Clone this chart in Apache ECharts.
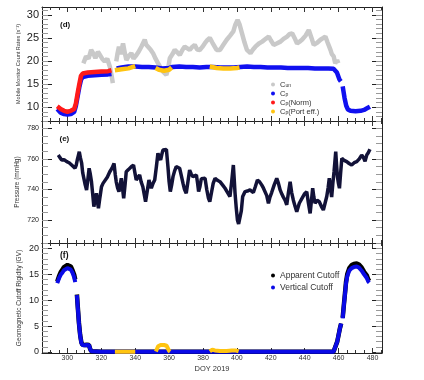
<!DOCTYPE html>
<html>
<head>
<meta charset="utf-8">
<script src="https://cdn.jsdelivr.net/npm/echarts@6/dist/echarts.min.js"></script>
<style>
html, body { margin: 0; padding: 0; background: #fff; }
#main { width: 424px; height: 380px; }
</style>
</head>
<body>
<div id="main"></div>
<script>
// [DOY, value] pairs; null = gap
const cUn = [[309.4,19.5],[311,21],[312.5,20.5],[314,22.4],[315.5,21.5],[316.5,20.6],[318,22],[319,21.7],[320.5,20.5],[322,19.9],[323.5,20.5],[325,18.8],[326,17],[326.8,15.2],[327.8,null],
  [328.8,19.9],[329.5,21.5],[330.4,23.1],[331.5,21.5],[332.8,23.8],[334,21.5],[334.8,20.2],[336,21],[337.7,21.7],[339,20.5],[340.7,21.3],[342,22],[343.6,23.1],[345.6,24.6],[346.5,23.5],[347.6,23.1],[349,22.5],[350.5,21.7],[352,20.5],[353.5,19.5],[355,18.5],[356.4,17.7],[358.4,17],[359.5,18.5],[360.4,20.6],[362,21.5],[363.3,22.4],[365,21.8],[366.3,21.3],[368,22.5],[369.2,23.1],[370.5,22.8],[372.2,22.4],[373.5,23],[375.1,23.5],[376.5,22.5],[378.1,22.4],[379.5,23],[381,23.8],[382.5,24.5],[384,25],[385.5,24],[388,22.4],[390,22.4],[392,23.5],[394,24.6],[396,25.5],[397.9,26.4],[399,27.8],[400.4,28.9],[401.5,28],[403,26],[404.5,24],[405.9,22.4],[408,21.7],[409.5,22.5],[410.9,23.1],[413,23.8],[414.9,24.2],[417,24.8],[418.8,25.3],[420,24.5],[421.7,23.5],[423.5,23.8],[425.7,24.2],[427.5,24.8],[429.6,25.3],[431,25.8],[432.6,26],[434,25],[435.5,23.8],[437,24.2],[438.4,24.6],[440.5,25.5],[442.4,26.7],[444,25],[445.3,23.5],[447.5,24],[449.3,24.6],[451,25],[452.2,25.3],[453.5,24],[455.2,22.4],[456,21.5],[457.1,21],[458,19.5],[459.1,20.2],[459.8,19.5]];
const cP = [[294,9.6],[296,8.8],[298,8.5],[300,8.4],[302,8.5],[304,9],[305,10.3],[306,12.3],[307,14.3],[308,15.9],[309,16.5],[312,16.8],[316,16.9],[320,17],[324,17.1],[326,17.2],[327.5,null],
  [329,18.4],[332,18.6],[336,18.8],[340,18.8],[344,18.7],[348,18.7],[352,18.6],[356,18.4],[360,18.5],[362,18.7],[366,18.8],[370,18.7],[374,18.7],[378,18.6],[382,18.7],[386,18.7],[390,18.6],[394,18.6],[398,18.6],[402,18.7],[406,18.8],[410,18.7],[414,18.7],[418,18.6],[422,18.6],[426,18.6],[430,18.5],[434,18.5],[438,18.5],[442,18.5],[446,18.4],[450,18.4],[454,18.4],[457,18.3],[459,17.5],[460.5,16],[461.3,15.6],[461.8,null],
  [462.4,14.5],[463.5,12],[464.5,10.3],[465.5,9.5],[467,9.2],[470,9.1],[473,9.2],[475,9.4],[477,9.8],[478.5,10.1]];
const cPNorm = [[294,10.2],[296,9.6],[298,9.2],[300,9],[302,9.2],[304,9.6],[305,10.8],[306,13],[307,15],[308,16.8],[309,17.3],[312,17.5],[316,17.6],[320,17.7],[324,17.8],[326,18]];
const cPPort = [[328,18],[332,18.2],[336,18.4],[340,18.9],[341,null],
  [352,18.5],[354,18.1],[357,17.9],[360,18.1],[361.5,18.6],[362.5,null],
  [384,18.8],[388,18.5],[392,18.4],[396,18.4],[400,18.5],[401.5,18.6]];
const pressure = [[294.6,762.5],[295.5,761],[296.6,759.3],[298,759.5],[299.6,758.2],[301,757.5],[302.5,756],[303.5,755.5],[304.5,753.9],[305.2,756],[305.8,759.3],[306.4,762],[307,764.7],[307.6,761],[308.4,757.2],[309,751],[309.7,747.3],[310.5,743],[311.3,739.7],[312,746],[312.8,753.9],[313.5,750],[314.2,745],[315,736],[315.6,728.8],[316.3,733],[317.1,737.5],[317.7,732],[318.3,727.7],[319.2,735],[320.1,741.8],[321,744],[322,745],[323.5,748],[325,751.6],[326.3,754],[327.5,757.1],[328.2,750],[328.8,745],[329.6,741],[330.4,738.6],[331.1,743],[331.8,747.3],[332.5,741],[333.2,734.3],[334,743],[334.7,751.6],[336,753],[337.7,754.9],[339,756],[339.8,751],[340.6,746.2],[341.6,748],[342.6,749.5],[343.5,745],[344.5,741.8],[345.3,737],[346.1,732],[347.1,739],[348.1,746.2],[348.8,743],[349.5,740.8],[350.5,744],[351.5,746.2],[352.5,755],[353.4,763.7],[354.2,761],[355,759.3],[355.7,763],[356.4,765.8],[357.4,766.5],[358.4,766.2],[359.3,754.9],[360,745],[360.7,738.6],[361.5,743],[362.3,748.4],[363.2,752],[364.2,754.9],[365.2,754.5],[366.2,753.9],[367.2,749],[368.2,744],[369.1,740],[370.1,737.5],[371.1,745],[372.1,752.7],[373.1,750],[374.1,748.4],[375.1,749],[376.1,749.5],[376.8,744],[377.4,738.6],[378.2,742],[379,747],[380.1,747.5],[381.2,747.3],[382.2,740],[383.2,734.3],[384,732],[385,738],[386,744],[387.1,747.3],[388.5,746],[390,745.1],[391.5,743],[393,740.8],[394.5,738],[395.9,735.4],[396.9,745],[397.9,756],[398.4,747],[398.9,737.5],[399.6,728],[400.3,720.1],[401,717.5],[401.8,716.8],[402.6,726],[403.4,735.4],[404.8,738.6],[406.2,739],[407.7,739.7],[408.7,741],[409.7,738],[410.9,742],[412.1,746.2],[413.4,745],[414.6,743],[415.6,741],[416.6,740],[417.6,736],[418.6,731],[419.5,735],[420.5,738],[422,743],[423.5,747.3],[424.5,744],[425.5,739.7],[426.5,737],[427.4,735],[428.4,733],[429.4,730],[430.4,738],[431.4,745.1],[432.3,738],[433.3,733],[434.3,729],[435.3,725.5],[436.8,731],[438.3,734],[439.8,737],[441.2,738.6],[442.2,731],[443.2,724.4],[444,733],[444.7,740.8],[445.4,735],[446.1,731],[447.3,733],[448.6,732],[449.8,729],[451,726.6],[452,731],[453,735.4],[453.8,741],[454.5,747.3],[455.2,741],[455.9,735],[456.6,744],[457.3,751.6],[457.8,758],[458.3,764.7],[458.8,756],[459.3,748.4],[459.9,744],[460.5,740.8],[461.2,751],[461.9,760.4],[463.3,759],[464.8,758.2],[466.2,757],[467.7,756],[469.2,757.5],[470.7,758.2],[472.2,760],[473.6,762.5],[474.6,761],[475.6,758.5],[476.6,762.5],[477.5,764],[478.5,766.3]];
const apparentCutoff = [[294,13.6],[295,14.6],[296,15.4],[297,15.9],[298,16.4],[299,16.7],[300,16.8],[301,16.8],[302,16.5],[303,15.8],[304,14.9],[304.6,14],[305.1,null],
  [305.6,11.1],[306.2,8.3],[306.8,5.6],[307.5,3.3],[308.2,1.9],[308.8,1.4],[310,1.35],[311.5,1.4],[312.7,1.35],[313.4,0.6],[314,0.15],[320,0.05],[380,0.05],[457,0.05],[458,0.4],[459.2,2],[460.8,4.6],[461.5,5.5],[461.9,null],
  [462.4,6.6],[463.1,9.1],[463.8,11.5],[464.4,13.6],[465.1,15],[466.3,16.2],[467.7,16.8],[469,17],[470.7,17.1],[472,16.9],[473.6,16.3],[475,15.5],[476.6,14.8],[477.5,14],[478.1,13.7]];
const verticalCutoff = [[294,13.3],[295,14.2],[296,14.9],[297,15.3],[298,15.8],[299,16.1],[300,16.2],[301,16.2],[302,15.9],[303,15.3],[304,14.4],[304.6,13.5],[305.1,null],
  [305.6,11],[306.2,8.2],[306.8,5.5],[307.5,3.2],[308.2,1.8],[308.8,1.35],[310,1.3],[311.5,1.35],[312.7,1.3],[313.4,0.6],[314,0.15],[320,0.05],[380,0.05],[457,0.05],[458,0.4],[459.2,2],[460.8,4.6],[461.5,5.5],[461.9,null],
  [462.4,6.5],[463.1,9],[463.8,11.3],[464.4,13.3],[465.1,14.6],[466.3,15.7],[467.7,16.2],[469,16.4],[470.7,16.5],[472,16.3],[473.6,15.7],[475,15],[476.6,14.3],[477.5,13.6],[478.1,13.4]];
const portCutoff = [[328,0.05],[340,0.05],[341,null],
  [352.2,0.1],[353.5,1.1],[355,1.35],[357,1.35],[358.5,1.2],[360,0.2],[360.6,0.05],[361,null],
  [384,0.1],[385.5,0.45],[387,0.3],[390,0.2],[394,0.2],[397,0.3],[398,0.5],[399,0.3],[401,0.1]];

const xTickLabels = [300, 320, 340, 360, 380, 400, 420, 440, 460, 480];
const rateTicks = [10, 15, 20, 25, 30];
const pressureTicks = [720, 740, 760, 780];
const cutoffTicks = [0, 5, 10, 15, 20];

const FONT = 'Liberation Sans, Arial, sans-serif';
const X_MIN = 285, X_MAX = 485.6;
const steps = (a, b, s) => { const t = []; for (let v = a; v <= b + 1e-9; v += s) t.push(+v.toFixed(3)); return t; };
const clean = d => d.map(p => [p[0], p[1] == null ? '-' : p[1]]);

const panels = [
  { top: 7, height: 114, min: 7, max: 31.7, major: rateTicks, minor: steps(7, 31, 1), labelSize: 11,
    name: 'Mobile Monitor Count Rates (s\u207B\u00B9)', nameSize: 5.5, nameGap: 21 },
  { top: 121, height: 122, min: 705, max: 784.8, major: pressureTicks, minor: steps(705, 780, 5), labelSize: 7,
    name: 'Pressure (mmHg)', nameSize: 6.5, nameGap: 21 },
  { top: 243, height: 110, min: -0.2, max: 21.05, major: cutoffTicks, minor: steps(0, 21, 1), labelSize: 9,
    name: 'Geomagnetic Cutoff Rigidity (GV)', nameSize: 6.5, nameGap: 19 }
];

const grids = [], xAxes = [], yAxes = [];
function xAx(gi, pos, ticks, len, showLine, last) {
  return {
    type: 'value', gridIndex: gi, position: pos, min: X_MIN, max: X_MAX,
    axisLine: { show: showLine, onZero: false, lineStyle: { color: '#222', width: 1 } },
    axisTick: { show: true, inside: true, length: len, customValues: ticks, lineStyle: { color: '#333', width: 1 } },
    axisLabel: { show: !!last, customValues: xTickLabels, fontSize: 7, color: '#333', margin: 2, fontFamily: FONT },
    splitLine: { show: false },
    name: last ? 'DOY 2019' : '', nameLocation: 'middle', nameGap: 11.5, nameMoveOverlap: false,
    nameTextStyle: { fontSize: 7.5, color: '#333', fontFamily: FONT }
  };
}
function yAx(gi, pos, p, ticks, len, color, showLine, withLabels) {
  return {
    type: 'value', gridIndex: gi, position: pos, min: p.min, max: p.max,
    axisLine: { show: showLine, onZero: false, lineStyle: { color: '#222', width: 1 } },
    axisTick: { show: true, inside: true, length: len, customValues: ticks, lineStyle: { color: color, width: 1 } },
    axisLabel: { show: !!withLabels, customValues: p.major, fontSize: p.labelSize, color: '#222', margin: 3, fontFamily: FONT },
    splitLine: { show: false },
    name: withLabels ? p.name : '', nameLocation: 'middle', nameRotate: 90, nameGap: p.nameGap, nameMoveOverlap: false,
    nameTextStyle: { fontSize: p.nameSize, color: '#333', fontFamily: FONT }
  };
}
// major-tick grids 0..2
panels.forEach((p, i) => {
  grids.push({ left: 42, width: 340, top: p.top, height: p.height, outerBoundsMode: 'none' });
  xAxes.push(xAx(i, 'bottom', xTickLabels, 5, true, i === 2), xAx(i, 'top', xTickLabels, 5, true, false));
  yAxes.push(yAx(i, 'left', p, p.major, 10, '#222', true, true), yAx(i, 'right', p, p.major, 10, '#222', true, false));
});
// overlaid minor-tick grids 3..5
panels.forEach((p, i) => {
  grids.push({ left: 42, width: 340, top: p.top, height: p.height, outerBoundsMode: 'none' });
  xAxes.push(xAx(3 + i, 'bottom', steps(285, 485, 5), 3, false, false), xAx(3 + i, 'top', steps(285, 485, 5), 3, false, false));
  yAxes.push(yAx(3 + i, 'left', p, p.minor, 6, '#999', false, false), yAx(3 + i, 'right', p, p.minor, 6, '#999', false, false));
});

function line(name, gi, data, color, width) {
  return {
    type: 'line', name: name, xAxisIndex: 2 * gi, yAxisIndex: 2 * gi, data: clean(data),
    showSymbol: false, symbol: 'circle', symbolSize: 4, connectNulls: false, silent: true,
    color: color, itemStyle: { color: color }, lineStyle: { color: color, width: width }
  };
}

const BLUE = '#1010f0', RED = '#ff1a1a', YELLOW = '#ffc410', GREY = '#c9c9c9', NAVY = '#121238';

const labelMap = {
  'C_un': '{a|C}{b|un}', 'C_p': '{a|C}{b|p}',
  'C_p(Norm)': '{a|C}{b|p}{a|(Norm)}', 'C_p(Port eff.)': '{a|C}{b|p}{a|(Port eff.)}'
};

const option = {
  animation: false,
  backgroundColor: '#fff',
  grid: grids, xAxis: xAxes, yAxis: yAxes,
  legend: [
    { data: ['C_un', 'C_p', 'C_p(Norm)', 'C_p(Port eff.)'], orient: 'vertical', left: 266, top: 75.5,
      icon: 'circle', itemWidth: 4, itemHeight: 4, itemGap: 1, selectedMode: false,
      formatter: n => labelMap[n],
      textStyle: { color: '#333', fontFamily: FONT,
        rich: { a: { fontSize: 7.5, lineHeight: 8, fontFamily: FONT, color: '#333' },
                b: { fontSize: 5, lineHeight: 8, verticalAlign: 'bottom', fontFamily: FONT, color: '#333' } } } },
    { data: ['Apparent Cutoff', 'Vertical Cutoff'], orient: 'vertical', left: 266, top: 265.5,
      icon: 'circle', itemWidth: 4, itemHeight: 4, itemGap: 2, selectedMode: false,
      textStyle: { color: '#333', fontFamily: FONT, fontSize: 8.5, lineHeight: 10 } }
  ],
  graphic: [
    { type: 'text', left: 60, top: 21, style: { text: '(d)', font: 'bold 8px ' + FONT, fill: '#111' } },
    { type: 'text', left: 59.5, top: 134.5, style: { text: '(e)', font: 'bold 8px ' + FONT, fill: '#111' } },
    { type: 'text', left: 60, top: 251, style: { text: '(f)', font: 'bold 8.5px ' + FONT, fill: '#111' } }
  ],
  series: [
    line('C_un', 0, cUn, GREY, 4.5),
    line('C_p', 0, cP, BLUE, 4.5),
    line('C_p(Norm)', 0, cPNorm, RED, 4.5),
    line('C_p(Port eff.)', 0, cPPort, YELLOW, 4.5),
    line('Pressure', 1, pressure, NAVY, 3.5),
    line('Apparent Cutoff', 2, apparentCutoff, '#000', 4.5),
    line('Vertical Cutoff', 2, verticalCutoff, '#0a0ae6', 4),
    line('Port eff. cutoff', 2, portCutoff, YELLOW, 4)
  ]
};

const chart = echarts.init(document.getElementById('main'), null, { renderer: 'canvas' });
chart.setOption(option);
</script>
</body>
</html>
